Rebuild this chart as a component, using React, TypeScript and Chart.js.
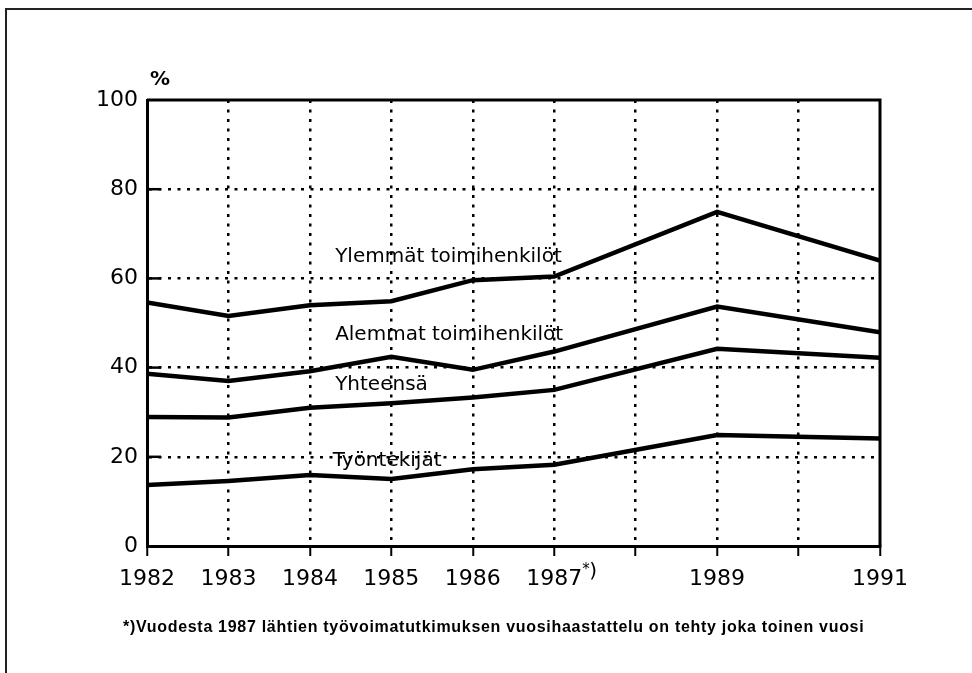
import React, { useEffect, useRef } from "react";
import { Chart, registerables } from "chart.js";

Chart.register(...registerables);

const years = [1982, 1983, 1984, 1985, 1986, 1987, 1989, 1991];
const labelledYears = [1982, 1983, 1984, 1985, 1986, 1987, 1989, 1991];
const ylemmat = [54.6, 51.6, 54.0, 54.9, 59.6, 60.4, 74.9, 64.0];
const alemmat = [38.6, 37.0, 39.2, 42.4, 39.5, 43.6, 53.7, 47.9];
const yhteensa = [28.9, 28.8, 31.0, 32.0, 33.3, 35.0, 44.2, 42.2];
const tyontekijat = [13.7, 14.6, 15.9, 15.0, 17.2, 18.2, 24.9, 24.1];
const seriesNames = ["Ylemmät toimihenkilöt", "Alemmat toimihenkilöt", "Yhteensä", "Työntekijät"];
// series label anchors in data coordinates [year, percent]
const labelAnchors: [number, number][] = [
  [1984.31, 64.8],
  [1984.31, 47.3],
  [1984.31, 36.1],
  [1984.28, 19.1],
];
const yTicks = [0, 20, 40, 60, 80, 100];
const footnote = "*)Vuodesta 1987 lähtien työvoimatutkimuksen vuosihaastattelu on tehty joka toinen vuosi";

const FONT = "'DejaVu Sans', sans-serif";

const decorPlugin = {
  id: "decor",
  afterDraw(chart: any) {
    const { ctx, chartArea, scales } = chart;
    const x = scales.x;
    const y = scales.y;
    ctx.save();
    // top and right frame of plot
    ctx.strokeStyle = "#000";
    ctx.lineWidth = 3;
    ctx.setLineDash([]);
    ctx.beginPath();
    ctx.moveTo(chartArea.left, chartArea.top);
    ctx.lineTo(chartArea.right, chartArea.top);
    ctx.lineTo(chartArea.right, chartArea.bottom);
    ctx.stroke();
    // inward y ticks
    ctx.lineWidth = 2.5;
    for (const t of yTicks) {
      if (t === 0 || t === 100) continue;
      const py = y.getPixelForValue(t);
      ctx.beginPath();
      ctx.moveTo(chartArea.left, py);
      ctx.lineTo(chartArea.left + 14, py);
      ctx.stroke();
    }
    // footnote marker after 1987
    const px = x.getPixelForValue(1987);
    ctx.fillStyle = "#000";
    ctx.textAlign = "left";
    ctx.textBaseline = "top";
    ctx.font = `15px ${FONT}`;
    ctx.fillText("*", px + 28, chartArea.bottom + 17);
    ctx.font = `20px ${FONT}`;
    ctx.fillText(")", px + 35, chartArea.bottom + 16);
    // series labels
    ctx.font = `20px ${FONT}`;
    ctx.textBaseline = "middle";
    seriesNames.forEach((name, i) => {
      const [ax, ay] = labelAnchors[i];
      ctx.fillText(name, x.getPixelForValue(ax), y.getPixelForValue(ay));
    });
    ctx.restore();
  },
};

export default function App() {
  const ref = useRef<HTMLCanvasElement>(null);
  useEffect(() => {
    const toPts = (arr: number[]) => years.map((yr, i) => ({ x: yr, y: arr[i] }));
    const mk = (label: string, arr: number[]) => ({
      label,
      data: toPts(arr),
      borderColor: "#000",
      borderWidth: 4.5,
      pointRadius: 0,
      tension: 0,
      fill: false,
      borderJoinStyle: "miter" as const,
    });
    const chart = new Chart(ref.current!, {
      type: "line",
      data: {
        datasets: [
          mk(seriesNames[0], ylemmat),
          mk(seriesNames[1], alemmat),
          mk(seriesNames[2], yhteensa),
          mk(seriesNames[3], tyontekijat),
        ],
      },
      options: {
        animation: false,
        responsive: false,
        devicePixelRatio: 1,
        layout: { padding: { left: 0, right: 92, top: 100, bottom: 0 } },
        plugins: { legend: { display: false }, tooltip: { enabled: false } },
        scales: {
          x: {
            type: "linear",
            min: 1982,
            max: 1991,
            afterFit: (s: any) => {
              s.height = 127;
            },
            ticks: {
              stepSize: 1,
              autoSkip: false,
              maxRotation: 0,
              color: "#000",
              padding: 10,
              font: { family: FONT, size: 22 },
              callback: (v: any) => (labelledYears.includes(Number(v)) ? String(v) : ""),
            },
            grid: {
              color: (c: any) => (c.tick && (c.tick.value === 1982 || c.tick.value === 1991) ? "rgba(0,0,0,0)" : "#000"),
              lineWidth: 2.5,
              tickColor: "#000",
              tickLength: 10,
              tickWidth: 2,
              tickBorderDash: [],
            },
            border: { display: true, color: "#000", width: 3, dash: [3, 6.5] },
          },
          y: {
            min: 0,
            max: 100,
            afterFit: (s: any) => {
              s.width = 147;
            },
            ticks: {
              stepSize: 20,
              color: "#000",
              padding: 9,
              font: { family: FONT, size: 22 },
            },
            grid: {
              color: (c: any) => (c.tick && (c.tick.value === 0 || c.tick.value === 100) ? "rgba(0,0,0,0)" : "#000"),
              lineWidth: 2.5,
              drawTicks: false,
            },
            border: { display: true, color: "#000", width: 3, dash: [3, 6.5] },
          },
        },
      },
      plugins: [decorPlugin],
    });
    return () => chart.destroy();
  }, []);

  return (
    <div style={{ position: "absolute", left: 0, top: 0, width: 972, height: 673, background: "#fff", overflow: "hidden" }}>
      <div style={{ position: "absolute", left: 5, top: 8, width: 967, height: 665, borderTop: "2px solid #222", borderLeft: "2px solid #222" }} />
      <canvas ref={ref} width={972} height={673} style={{ position: "absolute", left: 0, top: 0 }} />
      <div style={{ position: "absolute", left: 150, top: 66, fontFamily: FONT, fontSize: 20, fontWeight: "bold", color: "#000" }}>%</div>
      <div style={{ position: "absolute", left: 123, top: 618, fontFamily: "'Liberation Sans', Arial, sans-serif", fontSize: 16, letterSpacing: "0.7px", fontWeight: "bold", color: "#000", whiteSpace: "nowrap", lineHeight: "18px" }}>{footnote}</div>
    </div>
  );
}
